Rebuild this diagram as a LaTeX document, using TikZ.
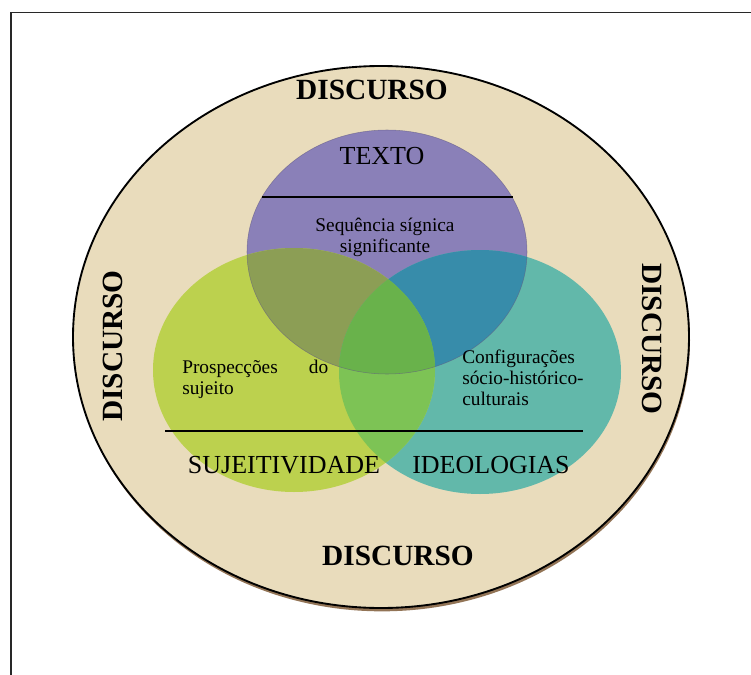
\documentclass[tikz,border=0pt]{standalone}
\usepackage{fontspec}
\setmainfont{Liberation Serif}
\definecolor{parch}{RGB}{233,220,188}
\definecolor{parchshadow}{RGB}{110,70,30}
\definecolor{cpurple}{RGB}{138,128,184}
\definecolor{cgreen}{RGB}{188,209,78}
\definecolor{cteal}{RGB}{98,184,170}
\definecolor{cpg}{RGB}{140,158,85}
\definecolor{cpt}{RGB}{55,140,170}
\definecolor{cgt}{RGB}{125,195,85}
\definecolor{cpgt}{RGB}{105,178,75}
\definecolor{frameline}{RGB}{40,40,40}
\begin{document}
\begin{tikzpicture}[x=0.75pt,y=-0.75pt,
  bigword/.style={font=\fontsize{22}{24}\selectfont\bfseries, inner sep=0pt},
  capword/.style={font=\fontsize{19.5}{22}\selectfont, inner sep=0pt},
  smalltext/.style={font=\fontsize{14.5}{15.6}\selectfont, inner sep=0pt},
  rule/.style={draw=black, line width=0.8pt}
]
\useasboundingbox (0,0) rectangle (751,675);
% frame (cropped: only top and left visible)
\draw[frameline, line width=1.2pt] (11,675) -- (11,12.5) -- (751,12.5);

% outer ellipse with shadow
\fill[parchshadow, opacity=0.75] (382,340) ellipse [x radius=231pt, y radius=203.5pt];
\fill[parch] (381,337) ellipse [x radius=231pt, y radius=203.25pt];
\draw[black, line width=1.4pt] (381,337) ellipse [x radius=231pt, y radius=203.25pt];

% coloured ellipses
\def\Purple{(387,252) ellipse [x radius=105pt, y radius=91.5pt]}
\def\Green{(294,370) ellipse [x radius=105.75pt, y radius=91.5pt]}
\def\Teal{(480,372) ellipse [x radius=105.75pt, y radius=91.5pt]}
\fill[cpurple] \Purple;
\fill[cteal] \Teal;
\fill[cgreen] \Green;
\begin{scope}
  \clip \Purple;
  \fill[cpg] \Green;
  \fill[cpt] \Teal;
\end{scope}
\begin{scope}
  \clip \Green;
  \fill[cgt] \Teal;
\end{scope}
\begin{scope}
  \clip \Purple;
  \clip \Green;
  \fill[cpgt] \Teal;
\end{scope}
\draw[cpurple!70!black, line width=0.4pt, opacity=0.6] \Purple;

% rules
\coordinate (r1a) at (262,197);
\coordinate (r1b) at (513,197);
\coordinate (r2a) at (165,431);
\coordinate (r2b) at (583,431);
\draw[rule] (r1a) -- (r1b);
\draw[rule] (r2a) -- (r2b);

% DISCURSO labels
\node[bigword] (dtop) at (372,90) {DISCURSO};
\node[bigword] (dbot) at (398,556) {DISCURSO};
\node[bigword, rotate=90] (dleft) at (113,346) {DISCURSO};
\node[bigword, rotate=-90] (dright) at (652,339) {DISCURSO};

% set labels
\node[capword] (texto) at (382,156) {TEXTO};
\node[capword] (suj) at (284,465) {SUJEITIVIDADE};
\node[capword] (ideo) at (491,465) {IDEOLOGIAS};

% inner texts
\node[smalltext, align=center] (seq) at (385,237) {Sequência sígnica\\significante};
\node[smalltext, align=left, anchor=north west] (prosp) at (182,360)
  {\hbox to 109.5pt{Prospecções\hfill do}\\sujeito};
\node[smalltext, align=left, anchor=north west] (config) at (462,350)
  {Configurações\\sócio-histórico-\\culturais};
\end{tikzpicture}
\end{document}
